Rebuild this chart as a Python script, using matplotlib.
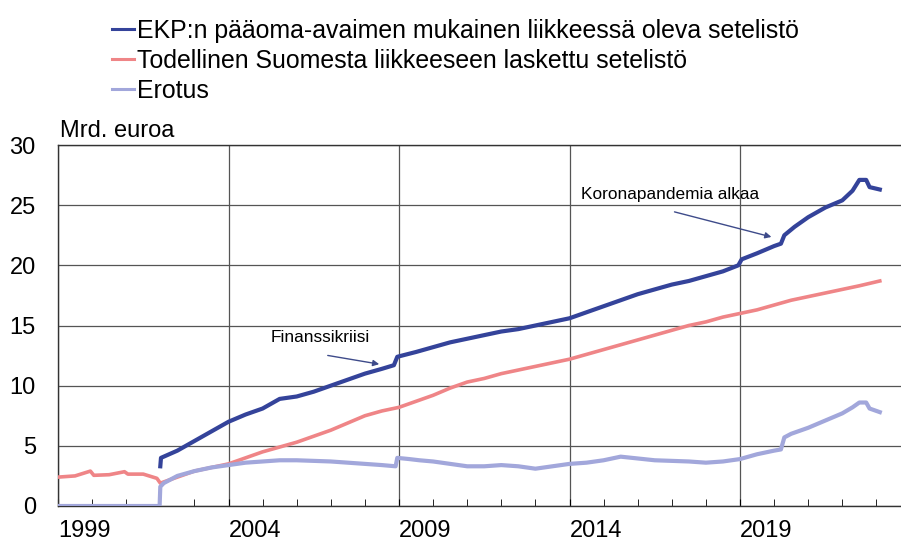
import matplotlib
matplotlib.use("Agg")
import matplotlib.pyplot as plt
from matplotlib.ticker import MultipleLocator

plt.rcParams["font.family"] = ["Liberation Sans", "DejaVu Sans"]

# ── data (Mrd. euroa) ─────────────────────────────────────────────────
ekp_year = [2002.0, 2002.02, 2002.5, 2003.0, 2003.5, 2004.0, 2004.5, 2005.0,
            2005.5, 2006.0, 2006.5, 2007.0, 2007.5, 2008.0, 2008.5, 2008.85,
            2008.95, 2009.5, 2010.0, 2010.5, 2011.0, 2011.5, 2012.0, 2012.5,
            2013.0, 2013.5, 2014.0, 2014.5, 2015.0, 2015.5, 2016.0, 2016.5,
            2017.0, 2017.5, 2018.0, 2018.5, 2018.95, 2019.05, 2019.5, 2020.0,
            2020.2, 2020.3, 2020.6, 2021.0, 2021.5, 2022.0, 2022.3, 2022.5,
            2022.7, 2022.8, 2023.1]
ekp_val = [3.3, 4.0, 4.6, 5.4, 6.2, 7.0, 7.6, 8.1,
           8.9, 9.1, 9.5, 10.0, 10.5, 11.0, 11.4, 11.7,
           12.4, 12.8, 13.2, 13.6, 13.9, 14.2, 14.5, 14.7,
           15.0, 15.3, 15.6, 16.1, 16.6, 17.1, 17.6, 18.0,
           18.4, 18.7, 19.1, 19.5, 20.0, 20.5, 21.0, 21.6,
           21.8, 22.5, 23.2, 24.0, 24.8, 25.4, 26.2, 27.1,
           27.1, 26.5, 26.3]

tod_year = [1999.0, 1999.5, 1999.95, 2000.05, 2000.5, 2000.95, 2001.05, 2001.5,
            2001.9, 2002.0, 2002.5, 2003.0, 2003.5, 2004.0, 2004.5, 2005.0,
            2005.5, 2006.0, 2006.5, 2007.0, 2007.5, 2008.0, 2008.5, 2009.0,
            2009.5, 2010.0, 2010.5, 2011.0, 2011.5, 2012.0, 2012.5, 2013.0,
            2013.5, 2014.0, 2014.5, 2015.0, 2015.5, 2016.0, 2016.5, 2017.0,
            2017.5, 2018.0, 2018.5, 2019.0, 2019.5, 2020.0, 2020.5, 2021.0,
            2021.5, 2022.0, 2022.5, 2023.1]
tod_val = [2.4, 2.5, 2.9, 2.55, 2.6, 2.85, 2.65, 2.65,
           2.3, 1.9, 2.4, 2.9, 3.2, 3.5, 4.0, 4.5,
           4.9, 5.3, 5.8, 6.3, 6.9, 7.5, 7.9, 8.2,
           8.7, 9.2, 9.8, 10.3, 10.6, 11.0, 11.3, 11.6,
           11.9, 12.2, 12.6, 13.0, 13.4, 13.8, 14.2, 14.6,
           15.0, 15.3, 15.7, 16.0, 16.3, 16.7, 17.1, 17.4,
           17.7, 18.0, 18.3, 18.7]

ero_year = [1999.0, 2001.98, 2002.0, 2002.1, 2002.5, 2003.0, 2003.5, 2004.0,
            2004.5, 2005.0, 2005.5, 2006.0, 2006.5, 2007.0, 2007.5, 2008.0,
            2008.5, 2008.9, 2008.95, 2009.3, 2009.6, 2010.0, 2010.5, 2011.0,
            2011.5, 2012.0, 2012.5, 2013.0, 2013.5, 2014.0, 2014.5, 2015.0,
            2015.5, 2016.0, 2016.5, 2017.0, 2017.5, 2018.0, 2018.5, 2019.0,
            2019.5, 2020.0, 2020.2, 2020.3, 2020.5, 2021.0, 2021.5, 2022.0,
            2022.3, 2022.5, 2022.7, 2022.8, 2023.1]
ero_val = [0.0, 0.0, 1.6, 1.9, 2.5, 2.9, 3.2, 3.4,
           3.6, 3.7, 3.8, 3.8, 3.75, 3.7, 3.6, 3.5,
           3.4, 3.3, 4.0, 3.9, 3.8, 3.7, 3.5, 3.3,
           3.3, 3.4, 3.3, 3.1, 3.3, 3.5, 3.6, 3.8,
           4.1, 3.95, 3.8, 3.75, 3.7, 3.6, 3.7, 3.9,
           4.3, 4.6, 4.7, 5.7, 6.0, 6.5, 7.1, 7.7,
           8.2, 8.6, 8.6, 8.1, 7.8]

labels = ["EKP:n pääoma-avaimen mukainen liikkeessä oleva setelistö",
          "Todellinen Suomesta liikkeeseen laskettu setelistö",
          "Erotus"]
colors = ["#34439a", "#ef8587", "#a2a7db"]

# ── figure ───────────────────────────────────────────────────────────
fig = plt.figure(figsize=(9.01, 5.47), dpi=100)
ax = fig.add_axes([58 / 901, 1 - 506 / 547, 1 - 58 / 901, (506 - 145) / 547])

l1, = ax.plot(ekp_year, ekp_val, color=colors[0], lw=3.0, zorder=3)
l2, = ax.plot(tod_year, tod_val, color=colors[1], lw=2.6, zorder=3)
l3, = ax.plot(ero_year, ero_val, color=colors[2], lw=3.0, zorder=4)

ax.set_xlim(1999, 1999 + (901 - 58) / 34.1)
ax.set_ylim(0, 30)
ax.yaxis.set_major_locator(MultipleLocator(5))
ax.xaxis.set_major_locator(MultipleLocator(5, offset=4))
ax.xaxis.set_minor_locator(MultipleLocator(1))
ax.grid(True, which="major", color="#555555", lw=0.9)
ax.set_axisbelow(True)
for s in ("left", "bottom", "top"):
    ax.spines[s].set_color("#333333")
    ax.spines[s].set_linewidth(1.0)
ax.spines["right"].set_visible(False)

ax.tick_params(axis="y", length=0, pad=16, labelsize=17)
ax.tick_params(axis="x", which="major", direction="in", length=5, pad=10,
               labelsize=17)
ax.tick_params(axis="x", which="minor", direction="in", length=5)
for t in ax.get_xticklabels():
    t.set_horizontalalignment("left")

fig.text(60 / 901, 1 - 131 / 547, "Mrd. euroa", fontsize=17, va="center",
         ha="left")

arrow = dict(arrowstyle="-|>", color="#3e4b8a", lw=1.0, mutation_scale=9)
ax.annotate("Finanssikriisi", xy=(2008.5, 11.75), xytext=(2006.68, 13.97),
            fontsize=12.4, ha="center", va="center")
ax.annotate("", xy=(2008.5, 11.75), xytext=(2006.83, 12.55), arrowprops=arrow)
ax.annotate("Koronapandemia alkaa", xy=(2020.0, 22.3), xytext=(2016.95, 25.85),
            fontsize=12.4, ha="center", va="center")
ax.annotate("", xy=(2020.0, 22.3), xytext=(2017.0, 24.5), arrowprops=arrow)

leg = fig.legend([l1, l2, l3], labels, loc="upper left",
                 bbox_to_anchor=(112 / 901, 1 - 19 / 547), frameon=False,
                 fontsize=17.9, handlelength=0.9, handletextpad=0.12,
                 labelspacing=0.24, borderaxespad=0, borderpad=0)
for h in leg.get_lines():
    h.set_linewidth(2.2)

fig.savefig("out.png", dpi=100)
